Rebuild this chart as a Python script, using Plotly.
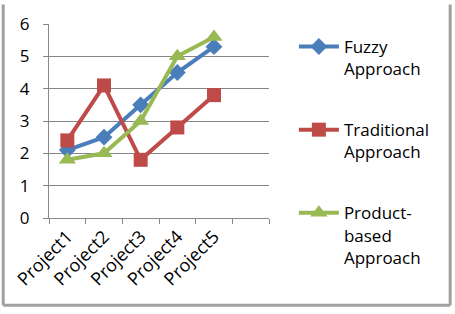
import plotly.graph_objects as go

categories = ["Project1", "Project2", "Project3", "Project4", "Project5", " "]
fuzzy = [2.1, 2.5, 3.5, 4.5, 5.3]
traditional = [2.4, 4.1, 1.8, 2.8, 3.8]
product = [1.8, 2.0, 3.0, 5.0, 5.6]
names = ["Fuzzy<br>Approach", "Traditional<br>Approach", "Product-<br>based<br>Approach"]

fig = go.Figure()
styles = [
    (fuzzy, "#4A7EBB", "diamond", 13),
    (traditional, "#BE4B48", "square", 14),
    (product, "#98B954", "triangle-up", 15),
]
for i, (vals, color, sym, size) in enumerate(styles):
    fig.add_trace(go.Scatter(
        x=categories[:len(vals)], y=vals, name=names[i], legendgroup=str(i),
        mode="lines+markers",
        line=dict(color=color, width=4),
        marker=dict(symbol=sym, size=size, color=color),
    ))

W, H = 455, 314
pl, pr, pt, pb = 48, 186, 20, 96
pw, ph = W - pl - pr, H - pt - pb
def px(x):
    return (x - pl) / pw
def py(y):
    return (H - pb - y) / ph

font = "Open Sans, Liberation Sans, sans-serif"
fig.update_layout(
    width=W, height=H,
    margin=dict(l=pl, r=pr, t=pt, b=pb),
    paper_bgcolor="white", plot_bgcolor="white",
    font=dict(family=font, size=17, color="black"),
    showlegend=True,
    legend=dict(x=px(294), xanchor="left", xref="paper",
                y=py(25), yanchor="top", yref="paper",
                valign="top", tracegroupgap=36, font=dict(size=17),
                itemwidth=40, maxheight=600,
                bgcolor="rgba(0,0,0,0)"),
    xaxis=dict(type="category", categoryorder="array", categoryarray=categories,
               range=[-0.5, 5.5], tickangle=-45, showgrid=False,
               showline=True, linecolor="#888", linewidth=1,
               ticks="outside", ticklen=5, tickcolor="#888",
               tickson="boundaries", tickfont=dict(size=18)),
    yaxis=dict(range=[0, 6], dtick=1, showgrid=True, gridcolor="#868686",
               gridwidth=1, showline=True, linecolor="#888", linewidth=1,
               ticks="outside", ticklen=5, tickcolor="#888",
               ticklabelstandoff=10,
               zeroline=False, tickfont=dict(size=17)),
)
for (x0, y0, x1, y1) in [(2, 0, 2, 307), (2, 307, 451, 307), (451, 0, 451, 307)]:
    fig.add_shape(type="line", xref="paper", yref="paper",
                  x0=px(x0), x1=px(x1), y0=py(y0), y1=py(y1),
                  line=dict(color="#A0A0A0", width=3))

fig.write_html("out.html")
